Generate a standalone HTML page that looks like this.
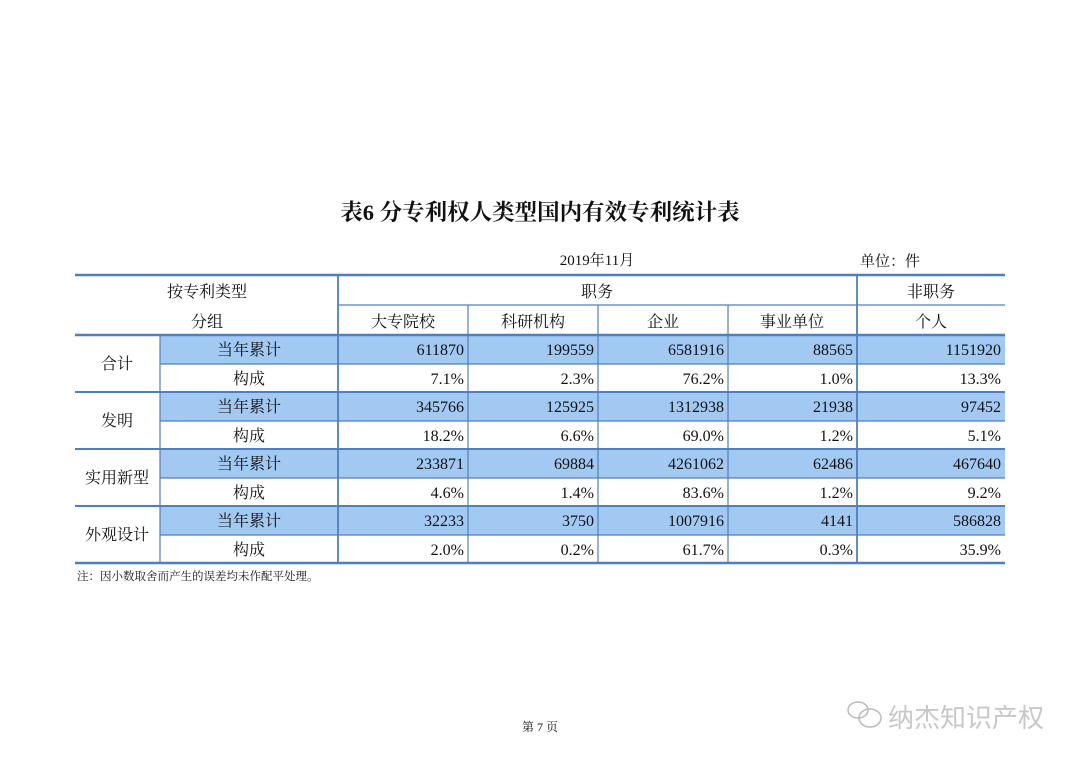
<!DOCTYPE html>
<html><head><meta charset="utf-8"><style>
html,body{margin:0;padding:0;background:#fff;}
svg{display:block}
text{font-family:"Liberation Serif","Noto Serif CJK SC",serif;fill:#111;}
</style></head><body>
<svg width="1080" height="763" viewBox="0 0 1080 763" xmlns="http://www.w3.org/2000/svg">
<rect width="1080" height="763" fill="#fff"/>
<text x="540" y="220" text-anchor="middle" font-size="22.5" font-weight="bold">表6  分专利权人类型国内有效专利统计表</text>
<text x="597" y="265" text-anchor="middle" font-size="15">2019年11月</text>
<text x="860" y="266" font-size="15">单位：件</text>
<g fill="#a2c9f1">
<rect x="160" y="335" width="845" height="29"/>
<rect x="160" y="392" width="845" height="29"/>
<rect x="160" y="449" width="845" height="29"/>
<rect x="160" y="506" width="845" height="29"/>
</g>
<g stroke="#4f7fc0" stroke-width="1.2" fill="none">
<line x1="75" y1="275" x2="1005" y2="275" stroke-width="2.5"/>
<line x1="75" y1="335" x2="1005" y2="335" stroke-width="2.5"/>
<line x1="75" y1="392" x2="1005" y2="392" stroke-width="2"/>
<line x1="75" y1="449" x2="1005" y2="449" stroke-width="2"/>
<line x1="75" y1="506" x2="1005" y2="506" stroke-width="2"/>
<line x1="75" y1="563" x2="1005" y2="563" stroke-width="2.5"/>
<line x1="338" y1="305" x2="1005" y2="305"/>
<line x1="160" y1="364" x2="1005" y2="364"/>
<line x1="160" y1="421" x2="1005" y2="421"/>
<line x1="160" y1="478" x2="1005" y2="478"/>
<line x1="160" y1="535" x2="1005" y2="535"/>
<line x1="160" y1="335" x2="160" y2="563"/>
<line x1="338" y1="275" x2="338" y2="563" stroke-width="1.8"/>
<line x1="857" y1="275" x2="857" y2="563" stroke-width="1.8"/>
<line x1="468" y1="305" x2="468" y2="563"/>
<line x1="598" y1="305" x2="598" y2="563"/>
<line x1="728" y1="305" x2="728" y2="563"/>
</g>
<g font-size="16" text-anchor="middle">
<text x="207" y="297">按专利类型</text>
<text x="207" y="327">分组</text>
<text x="597" y="297">职务</text>
<text x="931" y="297">非职务</text>
<text x="403" y="327">大专院校</text>
<text x="533" y="327">科研机构</text>
<text x="663" y="327">企业</text>
<text x="792" y="327">事业单位</text>
<text x="931" y="327">个人</text>
<text x="117" y="369">合计</text>
<text x="117" y="426">发明</text>
<text x="117" y="483">实用新型</text>
<text x="117" y="540">外观设计</text>
<text x="249" y="355">当年累计</text><text x="249" y="384">构成</text>
<text x="249" y="412">当年累计</text><text x="249" y="441">构成</text>
<text x="249" y="469">当年累计</text><text x="249" y="498">构成</text>
<text x="249" y="526">当年累计</text><text x="249" y="555">构成</text>
</g>
<g font-size="16" text-anchor="end">
<text x="464" y="355">611870</text><text x="594" y="355">199559</text><text x="724" y="355">6581916</text><text x="853" y="355">88565</text><text x="1001" y="355">1151920</text>
<text x="464" y="384">7.1%</text><text x="594" y="384">2.3%</text><text x="724" y="384">76.2%</text><text x="853" y="384">1.0%</text><text x="1001" y="384">13.3%</text>
<text x="464" y="412">345766</text><text x="594" y="412">125925</text><text x="724" y="412">1312938</text><text x="853" y="412">21938</text><text x="1001" y="412">97452</text>
<text x="464" y="441">18.2%</text><text x="594" y="441">6.6%</text><text x="724" y="441">69.0%</text><text x="853" y="441">1.2%</text><text x="1001" y="441">5.1%</text>
<text x="464" y="469">233871</text><text x="594" y="469">69884</text><text x="724" y="469">4261062</text><text x="853" y="469">62486</text><text x="1001" y="469">467640</text>
<text x="464" y="498">4.6%</text><text x="594" y="498">1.4%</text><text x="724" y="498">83.6%</text><text x="853" y="498">1.2%</text><text x="1001" y="498">9.2%</text>
<text x="464" y="526">32233</text><text x="594" y="526">3750</text><text x="724" y="526">1007916</text><text x="853" y="526">4141</text><text x="1001" y="526">586828</text>
<text x="464" y="555">2.0%</text><text x="594" y="555">0.2%</text><text x="724" y="555">61.7%</text><text x="853" y="555">0.3%</text><text x="1001" y="555">35.9%</text>
</g>
<text x="77" y="580" font-size="11.5">注：因小数取舍而产生的误差均未作配平处理。</text>
<text x="540" y="731" font-size="12" text-anchor="middle">第 7 页</text>
<g fill="none" stroke="#bbb" stroke-width="1.5">
<ellipse cx="858" cy="710" rx="10" ry="8"/>
<ellipse cx="870" cy="718" rx="11" ry="9"/>
</g>
<text x="888" y="727" font-size="26" style="fill:#c8c8c8;font-family:'Noto Sans CJK SC',sans-serif">纳杰知识产权</text>
</svg>
</body></html>
